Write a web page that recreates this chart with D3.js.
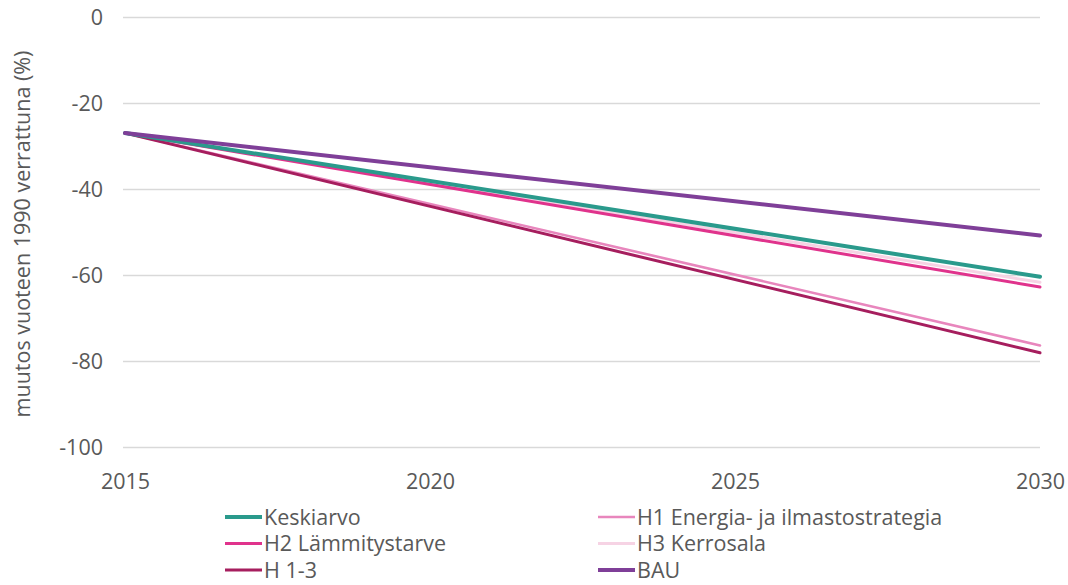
<!DOCTYPE html>
<html>
<head>
<meta charset="utf-8">
<script src="https://cdn.jsdelivr.net/npm/d3@7"></script>
<style>
  html, body { margin: 0; padding: 0; background: #fff; }
  svg text { font-family: "Open Sans", "Noto Sans", sans-serif; fill: #595959; }
</style>
</head>
<body>
<svg id="chart" width="1068" height="585"></svg>
<script>
// Years on the x axis
const years = [2015, 2030];
// Change compared with 1990 (%), one array per scenario
const keskiarvo = [-27, -60.4];
const h1Energia = [-27, -76.4];
const h2Lammitystarve = [-27, -62.8];
const h3Kerrosala = [-27, -61.7];
const h1to3 = [-27, -78.1];
const bau = [-27, -50.8];
// Axis ticks
const yTicks = [0, -20, -40, -60, -80, -100];
const xTicks = [2015, 2020, 2025, 2030];

const seriesNames = ["Keskiarvo", "H1 Energia- ja ilmastostrategia", "H2 Lämmitystarve", "H3 Kerrosala", "H 1-3", "BAU"];
const seriesValues = [keskiarvo, h1Energia, h2Lammitystarve, h3Kerrosala, h1to3, bau];
const colors = ["#2A9A8C", "#E886BD", "#E0338C", "#F6D3E4", "#A61E5E", "#7F3F98"];
const widths = [4, 2.6, 3, 3, 3, 4];
// draw order: lighter lines beneath heavier ones
const drawOrder = [3, 1, 2, 4, 0, 5];

const FS = 21.5;
const svg = d3.select("#chart");
const x = d3.scaleLinear().domain([2015, 2030]).range([125, 1040]);
const y = d3.scaleLinear().domain([-100, 0]).range([447, 17]);

// horizontal gridlines
const yAxis = d3.axisLeft(y).tickValues(yTicks).tickSize(-(1040 - 123)).tickFormat(d => String(d));
const gy = svg.append("g").attr("transform", "translate(123,0)").call(yAxis);
gy.select(".domain").remove();
gy.selectAll(".tick line").attr("stroke", "#D9D9D9").attr("stroke-width", 1.3);
gy.selectAll(".tick text").attr("font-size", FS).attr("dy", "0.35em").attr("x", -20);

// x axis labels only
const xAxis = d3.axisBottom(x).tickValues(xTicks).tickSize(0).tickPadding(27).tickFormat(d => String(d));
const gx = svg.append("g").attr("transform", "translate(0,447)").call(xAxis);
gx.select(".domain").remove();
gx.selectAll(".tick text").attr("font-size", FS);

// y axis title
svg.append("text")
  .attr("transform", "translate(30,234) rotate(-90)")
  .attr("text-anchor", "middle")
  .attr("font-size", FS)
  .text("muutos vuoteen 1990 verrattuna (%)");

const line = d3.line().x((d, i) => x(years[i])).y(d => y(d));

drawOrder.forEach(i => {
  svg.append("path")
    .datum(seriesValues[i])
    .attr("d", line)
    .attr("fill", "none")
    .attr("stroke", colors[i])
    .attr("stroke-width", widths[i])
    .attr("stroke-linecap", "round");
});

// legend, two columns of three rows
const legend = svg.append("g");
seriesNames.forEach((name, i) => {
  const col = i % 2, row = Math.floor(i / 2);
  const lx = col === 0 ? 225 : 598;
  const ly = 517 + row * 26.5;
  const g = legend.append("g").attr("transform", `translate(${lx},${ly})`);
  g.append("line").attr("x1", 0).attr("x2", 37).attr("y1", 0).attr("y2", 0)
    .attr("stroke", colors[i]).attr("stroke-width", widths[i]);
  g.append("text").attr("x", 39).attr("y", 0).attr("dy", "0.35em")
    .attr("font-size", FS).text(name);
});
</script>
</body>
</html>
